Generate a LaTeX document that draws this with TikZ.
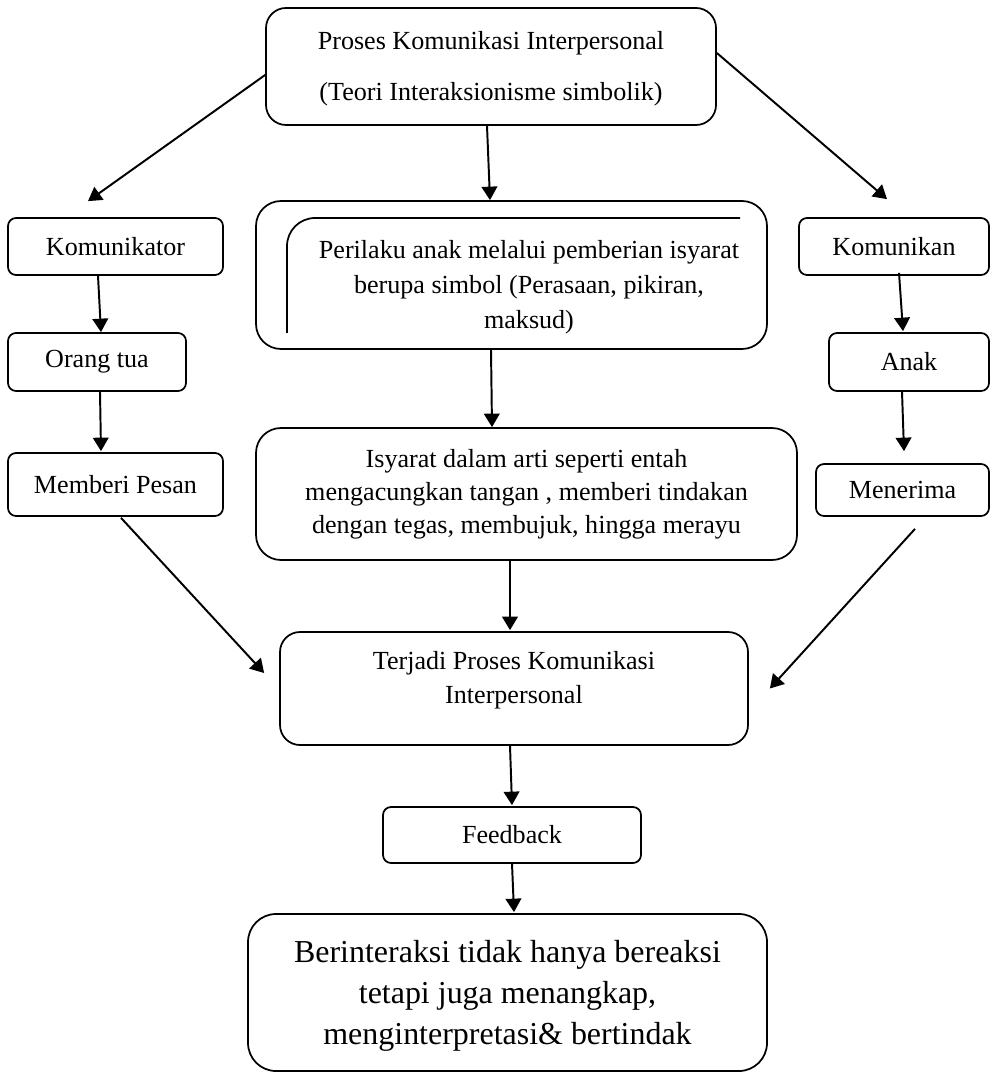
\documentclass[tikz,border=0pt]{standalone}
\usepackage{fontspec}
\setmainfont{Liberation Serif}
\usetikzlibrary{arrows.meta,calc}
\begin{document}
\begin{tikzpicture}[x=0.46pt,y=-0.46pt,
  box/.style={draw, line width=0.8pt, rounded corners=#1, inner sep=0pt, align=center,
    font=\fontsize{12}{16}\selectfont},
  box/.default=3.7pt,
  arr/.style={line width=0.9pt, -{Triangle[length=6.2pt,width=7.2pt]}},
  txt/.style={align=center, inner sep=0pt}]
\useasboundingbox (0,0) rectangle (990,1073);

% boxes
\node[box=9.2pt, minimum width=207pt, minimum height=53.82pt] (top) at (491,66.5) {};
\node[txt, font=\fontsize{12}{23.5}\selectfont] (topT) at (491,69)
  {Proses Komunikasi Interpersonal\\(Teori Interaksionisme simbolik)};
\node[box, minimum width=98.9pt, minimum height=26.22pt] (kor) at (115.5,246.5) {Komunikator};
\node[box=11.5pt, minimum width=235.06pt, minimum height=68.08pt] (per) at (511.5,275) {};
\node[txt, font=\fontsize{12}{16.1}\selectfont] (perT) at (529,287)
  {Perilaku anak melalui pemberian isyarat\\berupa simbol (Perasaan, pikiran,\\maksud)};
\draw[line width=0.8pt, rounded corners=12.9pt] (740,218) -- (287,218) -- (287,333);
\node[box, minimum width=87.4pt, minimum height=26.22pt] (kan) at (894,246.5) {Komunikan};
\node[box, minimum width=81.88pt, minimum height=26.68pt] (ora) at (97,362) {Orang tua};
\node[box, minimum width=73.6pt, minimum height=26.68pt] (anak) at (909,362) {Anak};
\node[box, minimum width=98.9pt, minimum height=28.98pt] (mem) at (115.5,484.5) {Memberi Pesan};
\node[box=11.5pt, minimum width=248.86pt, minimum height=60.72pt, font=\fontsize{12}{15.2}\selectfont]
  (isy) at (526.5,494) {Isyarat dalam arti seperti entah\\mengacungkan tangan , memberi tindakan\\dengan tegas, membujuk, hingga merayu};
\node[box, minimum width=79.58pt, minimum height=23.92pt] (men) at (902.5,490) {Menerima};
\node[box=9.2pt, minimum width=215.28pt, minimum height=51.98pt] (ter) at (514,688.5) {};
\node[txt, font=\fontsize{12}{15.6}\selectfont] (terT) at (514,680)
  {Terjadi Proses Komunikasi\\Interpersonal};
\node[box, minimum width=118.68pt, minimum height=25.76pt] (fb) at (512,835) {Feedback};
\node[box=12.9pt, minimum width=238.74pt, minimum height=72.22pt] (bot) at (507.5,992.5) {};
\node[txt, font=\fontsize{14.7}{19}\selectfont] (botT) at (507.5,996)
  {Berinteraksi tidak hanya bereaksi\\tetapi juga menangkap,\\menginterpretasi\& bertindak};

% connectors
\draw[arr] ($(top.west)+(0,8.5)$) -- ($(kor.north)+(-27.5,-16)$);
\draw[arr] ($(top.south)+(-4,0)$) -- ($(per.north)+(-21.5,0)$);
\draw[arr] ($(top.east)+(0,-13.5)$) -- ($(kan.north)+(-7,-18)$);
\draw[arr] ($(kor.south)+(-17.5,0)$) -- ($(ora.north)+(4,0)$);
\draw[arr] ($(ora.south)+(3,0)$) -- ($(mem.north)+(-14.5,-1)$);
\draw[arr] ($(kan.south)+(5,-3)$) -- ($(anak.north)+(-6,-1)$);
\draw[arr] ($(anak.south)+(-7,0)$) -- ($(men.north)+(1.5,-12)$);
\draw[arr] ($(per.south)+(-20.5,0)$) -- ($(isy.north)+(-34.5,0)$);
\draw[arr] ($(isy.south)+(-16.5,0)$) -- ($(ter.north)+(-4,-1)$);
\draw[arr] ($(mem.south)+(5.5,1)$) -- ($(ter.west)+(-15,-15.5)$);
\draw[arr] ($(men.south)+(12.5,12)$) -- ($(ter.east)+(21,0)$);
\draw[arr] ($(ter.south)+(-4,0)$) -- ($(fb.north)+(0,-1)$);
\draw[arr] (fb.south) -- ($(bot.north)+(6.5,-1)$);
\end{tikzpicture}
\end{document}
